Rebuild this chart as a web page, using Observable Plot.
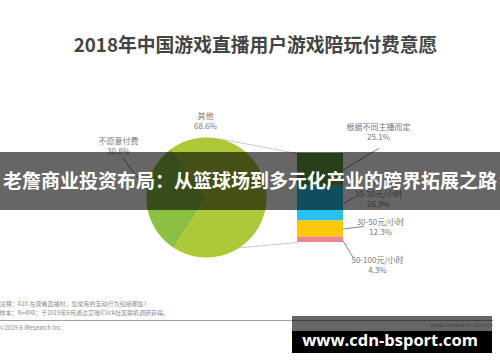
<!DOCTYPE html>
<html><head><meta charset="utf-8">
<script src="https://cdn.jsdelivr.net/npm/d3@7"></script>
<script src="https://cdn.jsdelivr.net/npm/@observablehq/plot@0.6"></script>
<style>
body{margin:0;background:#fff;font-family:"Noto Sans CJK SC","Noto Sans",sans-serif;}
#wrap{position:relative;width:500px;height:362px;overflow:hidden;}
#wrap svg{position:absolute;left:0;top:0;}
.banner{position:absolute;left:0;top:152px;width:500px;height:58px;background:rgba(0,0,0,0.6);}
.banner span{position:absolute;left:0;width:500px;top:14px;text-align:center;color:#fff;font-weight:bold;font-size:19px;line-height:28px;white-space:nowrap;font-family:"Noto Sans CJK SC",sans-serif;}
.wm1{position:absolute;left:292px;top:316px;width:200px;height:15px;background:rgba(0,0,0,0.6);}
.wm2{position:absolute;left:292px;top:331px;width:200px;height:22px;background:#000;}
.wmt{position:absolute;left:292px;top:331px;width:196px;text-align:center;color:#fff;font-weight:bold;font-size:16.5px;line-height:17px;font-family:"Open Sans","DejaVu Sans",sans-serif;white-space:nowrap;}
</style></head><body><div id="wrap"></div>
<script>
// ---- data ----
const title = "2018年中国游戏直播用户游戏陪玩付费意愿";
const pieCategories = ["不愿意付费", "其他"];
const pieValues = [30.8, 68.6];
const barCategories = ["根据不同主播而定", "10-30元/小时", "30-50元/小时", "50-100元/小时"];
const barValues = [25.1, 26.9, 12.3, 4.3];
const noteLines = [
  "注释：A10.在观看直播时，您常有的互动行为包括哪些?",
  "样本：N=498；于2019年6月通过艾瑞iClick社区联机调研获得。"
];
const copyright = "©2019.6 iResearch Inc.";
const site = "www.iresearch.com.cn";
const overlayText = "老詹商业投资布局：从篮球场到多元化产业的跨界拓展之路";
const watermark = "www.cdn-bsport.com";

// ---- layout / style ----
const pieColors = ["#8cc043", "#adc937"];
const barColors = ["#5f9d3c", "#27c2ee", "#fcc80c", "#f08585"];
const C = {cx: 206, cy: 197, r: 60, start: 213};
const B = {x1: 297, x2: 343, top: 153, h: 89};
const pieLabelPos = [{x: 118, y: 141}, {x: 205, y: 116}];
const barLabelPos = [{x: 378, y: 127}, {x: 378, y: 194}, {x: 380, y: 222}, {x: 377, y: 260}];
const barLeaderEnd = [{x: 378, y: 148}, {x: 354, y: 197}, {x: 363, y: 226}, {x: 352, y: 256}];

const rad = Math.PI / 180;
const pt = (a, r = C.r) => ({x: C.cx + r * Math.sin(a), y: C.cy - r * Math.cos(a)});

// pie slices from data
const arcs = d3.pie().sort(null).startAngle(C.start * rad).endAngle((C.start + 360) * rad)(pieValues);
const slicePolys = arcs.map((a, i) => {
  const pts = [{x: C.cx, y: C.cy}];
  const n = Math.max(2, Math.ceil((a.endAngle - a.startAngle) / rad));
  for (let k = 0; k <= n; k++) pts.push(pt(a.startAngle + (a.endAngle - a.startAngle) * k / n));
  return pts;
});

// bar segments from data
const k = B.h / d3.sum(barValues);
let acc = 0;
const segs = barValues.map((v, i) => {
  const s = {y1: B.top + acc * k, y2: B.top + (acc + v) * k, x1: B.x1, x2: B.x2, c: barColors[i]};
  acc += v; return s;
});

// leaders
const pieLeaderA = [277, null];
const leaders = [];
pieLeaderA.forEach((ang, i) => {
  if (ang == null) return;
  const p = pt(ang * rad);
  leaders.push([{x: pieLabelPos[i].x + 4, y: pieLabelPos[i].y + 16}, p]);
});
segs.forEach((s, i) => {
  const y = i === 3 ? s.y2 - 1 : (s.y1 + s.y2) / 2;
  leaders.push([{x: B.x2, y}, barLeaderEnd[i]]);
});
const connectors = [[pt(12 * rad), {x: B.x1, y: B.top}], [pt(147 * rad), {x: B.x1, y: B.top + B.h}]];

const fmt = v => v.toFixed(1) + "%";
const labelRows = [];
pieCategories.forEach((c, i) => {
  labelRows.push({x: pieLabelPos[i].x, y: pieLabelPos[i].y, t: c});
  labelRows.push({x: pieLabelPos[i].x, y: pieLabelPos[i].y + 10, t: fmt(pieValues[i])});
});
barCategories.forEach((c, i) => {
  labelRows.push({x: barLabelPos[i].x, y: barLabelPos[i].y, t: c});
  labelRows.push({x: barLabelPos[i].x, y: barLabelPos[i].y + 10, t: fmt(barValues[i])});
});
const noteRows = [
  {x: -1, y: 304, t: noteLines[0]},
  {x: -1, y: 313, t: noteLines[1]},
  {x: -1, y: 328, t: copyright}
];

const marks = [
  ...connectors.map(c => Plot.line(c, {x: "x", y: "y", stroke: "#c4c4c4", strokeWidth: 0.9})),
  ...slicePolys.map((p, i) => Plot.line(p, {x: "x", y: "y", fill: pieColors[i], stroke: "none", curve: "linear-closed"})),
  Plot.rect(segs, {x1: "x1", x2: "x2", y1: "y1", y2: "y2", fill: "c"}),
  ...leaders.map(l => Plot.line(l, {x: "x", y: "y", stroke: "#666", strokeWidth: 0.8})),
  Plot.text(labelRows, {x: "x", y: "y", text: "t", fontSize: 8, fill: "#777", fontFamily: "Noto Sans CJK SC"}),
  Plot.text([title], {x: 255, y: 45, text: d => d, fontSize: 18.8, fontWeight: "bold", fill: "#444", fontFamily: "Noto Sans CJK SC"}),
  Plot.text(noteRows, {x: "x", y: "y", text: "t", textAnchor: "start", fontSize: 6, fill: "#8a8a8a", fontFamily: "Noto Sans CJK SC"}),
  Plot.ruleY([320], {x1: 0, x2: 493, stroke: "#888", strokeWidth: 0.8}),
  Plot.text([site], {x: 493, y: 325, text: d => d, textAnchor: "end", fontSize: 6, fill: "#aaa"})
];

const chart = Plot.plot({
  width: 500, height: 362, margin: 0,
  x: {type: "identity", axis: null},
  y: {type: "identity", axis: null},
  style: {background: "white", overflow: "visible"},
  marks
});
const wrap = document.getElementById("wrap");
wrap.appendChild(chart);
const b = document.createElement("div"); b.className = "banner"; wrap.appendChild(b);
const bt = document.createElement("div"); bt.className = "banner";
bt.style.background = "none";
const sp = document.createElement("span"); sp.textContent = overlayText;
bt.appendChild(sp); wrap.appendChild(bt);
["wm1", "wm2"].forEach(c => { const d = document.createElement("div"); d.className = c; wrap.appendChild(d); });
const wt = document.createElement("div"); wt.className = "wmt"; wt.textContent = watermark; wrap.appendChild(wt);
</script></body></html>
